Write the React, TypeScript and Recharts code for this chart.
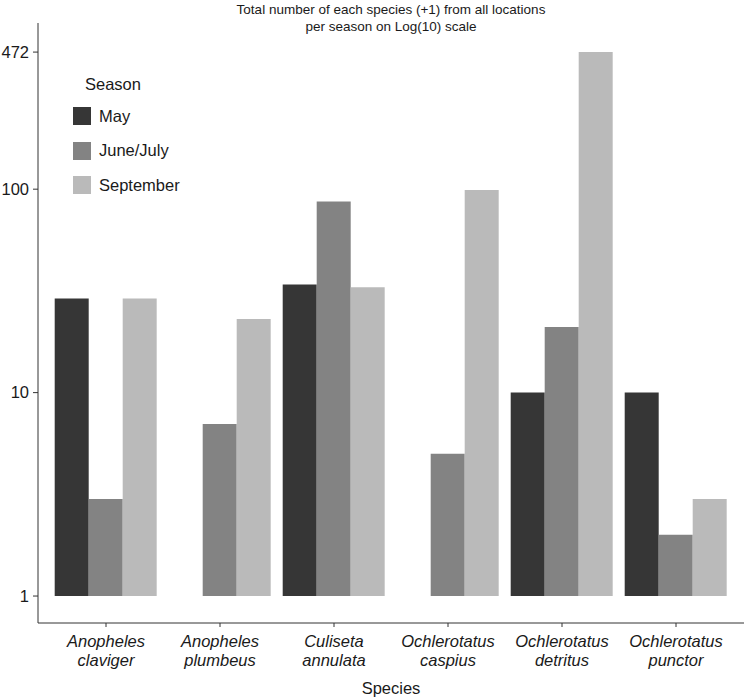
import { BarChart, Bar, XAxis, YAxis, Legend } from 'recharts';

const species = [
  'Anopheles claviger',
  'Anopheles plumbeus',
  'Culiseta annulata',
  'Ochlerotatus caspius',
  'Ochlerotatus detritus',
  'Ochlerotatus punctor',
];
// counts (+1), so 1 means none caught
const may = [29, 1, 34, 1, 10, 10];
const juneJuly = [3, 7, 87, 5, 21, 2];
const september = [29, 23, 33, 99, 472, 3];
const yTicks = [1, 10, 100, 472];

const seasons = [
  { key: 'may', name: 'May', color: '#363636' },
  { key: 'juneJuly', name: 'June/July', color: '#838383' },
  { key: 'september', name: 'September', color: '#bababa' },
];

const data = species.map((s, i) => ({
  species: s,
  may: may[i],
  juneJuly: juneJuly[i],
  september: september[i],
}));

const FONT = 'Liberation Sans, Arial, sans-serif';

function SpeciesTick({ x, y, payload }: any) {
  const [genus, name] = String(payload.value).split(' ');
  return (
    <text x={x} y={y} textAnchor="middle" fontStyle="italic" fontSize={16.5} fill="#1a1a1a" fontFamily={FONT}>
      <tspan x={x} dy={20}>{genus}</tspan>
      <tspan x={x} dy={19}>{name}</tspan>
    </text>
  );
}

function SeasonLegend() {
  return (
    <div style={{ fontFamily: FONT, fontSize: 16.5, color: '#1a1a1a' }}>
      <div style={{ marginLeft: 12, height: 22, lineHeight: '22px' }}>Season</div>
      {seasons.map((s, i) => (
        <div key={s.key} style={{ display: 'flex', alignItems: 'center', marginTop: i === 0 ? 10 : 12.5, height: 22 }}>
          <span style={{ width: 18, height: 18, background: s.color, display: 'inline-block', marginRight: 8 }} />
          <span>{s.name}</span>
        </div>
      ))}
    </div>
  );
}

export default function App() {
  return (
    <div style={{ position: 'absolute', left: 0, top: 0, width: 744, height: 700, background: '#fff', fontFamily: FONT }}>
      <div
        style={{
          position: 'absolute',
          left: 38,
          width: 706,
          top: 1,
          textAlign: 'center',
          fontSize: 13.5,
          lineHeight: '17px',
          color: '#1a1a1a',
          zIndex: 2,
        }}
      >
        Total number of each species (+1) from all locations
        <br />
        per season on Log(10) scale
      </div>
      <BarChart
        width={744}
        height={700}
        data={data}
        margin={{ top: 23, right: 0, bottom: 0, left: 0 }}
        barCategoryGap="5%"
        barGap={0}
      >
        <XAxis
          dataKey="species"
          height={77}
          padding={{ left: 11, right: 11 }}
          tickLine={{ stroke: '#333' }}
          axisLine={{ stroke: '#333' }}
          tickSize={4}
          tickMargin={0}
          interval={0}
          tick={<SpeciesTick />}
          label={{ value: 'Species', position: 'insideBottom', offset: 6, fontSize: 16.5, fill: '#1a1a1a', fontFamily: FONT }}
        />
        <YAxis
          scale="log"
          domain={[0.737, 656]}
          allowDataOverflow
          ticks={yTicks}
          width={38}
          tickSize={5}
          tickMargin={4}
          tickLine={{ stroke: '#333' }}
          axisLine={{ stroke: '#333' }}
          tick={{ fontSize: 16.5, fill: '#1a1a1a', fontFamily: FONT }}
        />
        <Legend
          layout="vertical"
          align="center"
          verticalAlign="middle"
          content={<SeasonLegend />}
          wrapperStyle={{ left: 73, top: 73, width: 160 }}
        />
        {seasons.map((s) => (
          <Bar
            key={s.key}
            name={s.name}
            dataKey={(d: any) => [1, d[s.key]]}
            fill={s.color}
            isAnimationActive={false}
          />
        ))}
      </BarChart>
    </div>
  );
}
